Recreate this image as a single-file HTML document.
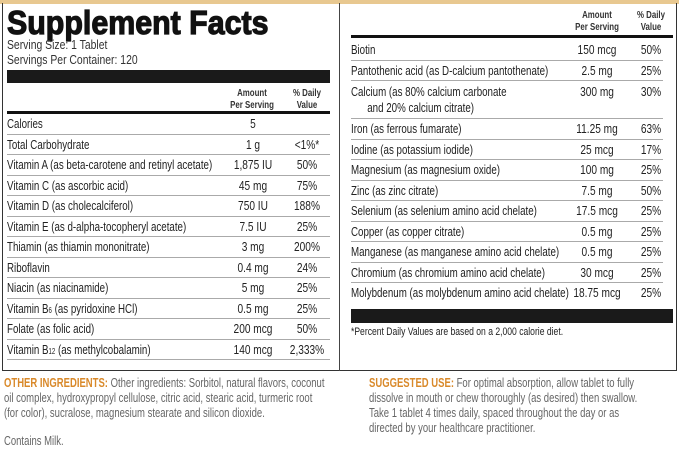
<!DOCTYPE html>
<html><head><meta charset="utf-8"><style>
*{margin:0;padding:0;box-sizing:border-box}
body{width:679px;height:448px;background:#fff;position:relative;overflow:hidden;font-family:"Liberation Sans",sans-serif;color:#222}
.a{position:absolute;white-space:nowrap}
.r{position:relative;height:20.5px;border-bottom:1px solid #aaa;font-size:13px;line-height:20px}
.r span{position:absolute;top:0;white-space:nowrap}
.r span:nth-child(1){left:0;transform:scaleX(.75);transform-origin:0 0}
.L span:nth-child(2){left:216px;width:60px;text-align:center;transform:scaleX(.78)}
.L span:nth-child(3){left:276px;width:48px;text-align:center;transform:scaleX(.78)}
.R span:nth-child(2){left:215px;width:62px;text-align:center;transform:scaleX(.78)}
.R span:nth-child(3){left:277px;width:46px;text-align:center;transform:scaleX(.78)}
.hd{position:absolute;font-size:10.5px;font-weight:bold;text-align:center;line-height:12px;transform:scaleX(.75);color:#333}
.bt{font-size:12.5px;color:#666;line-height:15px;transform:scaleX(.76);transform-origin:0 0}
.or{color:#d9892a;font-weight:bold}
</style></head><body>
<div class="a" style="left:0;top:0;width:679px;height:4px;background:#e8c890"></div>
<div class="a" style="left:2px;top:3px;width:675px;height:368px;border:1.5px solid #333;border-top:none"></div>
<div class="a" style="left:339px;top:3px;width:1px;height:368px;background:#444"></div>

<div class="a" style="left:7px;top:5px;font-weight:900;font-size:33px;line-height:36px;-webkit-text-stroke:1.2px #111;color:#111;transform:scaleX(.92);transform-origin:0 0">Supplement Facts</div>
<div class="a" style="left:7px;top:37px;font-size:13px;line-height:15px;color:#333;transform:scaleX(.8);transform-origin:0 0">Serving Size: 1 Tablet<br>Servings Per Container: 120</div>
<div class="a" style="left:7px;top:70px;width:323px;height:13px;background:#1a1a1a"></div>
<div class="hd" style="left:216px;top:87px;width:72px">Amount<br>Per Serving</div>
<div class="hd" style="left:280px;top:87px;width:54px">% Daily<br>Value</div>
<div class="a" style="left:7px;top:111px;width:323px;height:3px;background:#111"></div>

<div class="L" style="position:absolute;left:7px;top:114px;width:323px">
<div class="r"><span>Calories</span><span>5</span></div>
<div class="r"><span>Total Carbohydrate</span><span>1 g</span><span>&lt;1%*</span></div>
<div class="r"><span>Vitamin A (as beta-carotene and retinyl acetate)</span><span>1,875 IU</span><span>50%</span></div>
<div class="r"><span>Vitamin C (as ascorbic acid)</span><span>45 mg</span><span>75%</span></div>
<div class="r"><span>Vitamin D (as cholecalciferol)</span><span>750 IU</span><span>188%</span></div>
<div class="r"><span>Vitamin E (as d-alpha-tocopheryl acetate)</span><span>7.5 IU</span><span>25%</span></div>
<div class="r"><span>Thiamin (as thiamin mononitrate)</span><span>3 mg</span><span>200%</span></div>
<div class="r"><span>Riboflavin</span><span>0.4 mg</span><span>24%</span></div>
<div class="r"><span>Niacin (as niacinamide)</span><span>5 mg</span><span>25%</span></div>
<div class="r"><span>Vitamin B<small style="font-size:8px">6</small> (as pyridoxine HCl)</span><span>0.5 mg</span><span>25%</span></div>
<div class="r"><span>Folate (as folic acid)</span><span>200 mcg</span><span>50%</span></div>
<div class="r"><span>Vitamin B<small style="font-size:8px">12</small> (as methylcobalamin)</span><span>140 mcg</span><span>2,333%</span></div>
</div>

<div class="hd" style="left:561px;top:9px;width:72px">Amount<br>Per Serving</div>
<div class="hd" style="left:624px;top:9px;width:54px">% Daily<br>Value</div>
<div class="a" style="left:351px;top:35px;width:322px;height:3px;background:#111"></div>
<div class="R" style="position:absolute;left:351px;top:40px;width:312px">
<div class="r"><span>Biotin</span><span>150 mcg</span><span>50%</span></div>
<div class="r"><span>Pantothenic acid (as D-calcium pantothenate)</span><span>2.5 mg</span><span>25%</span></div>
<div class="r" style="height:38px;line-height:16px"><span style="top:3px">Calcium (as 80% calcium carbonate<br>&nbsp;&nbsp;&nbsp;&nbsp;&nbsp;&nbsp;and 20% calcium citrate)</span><span style="top:3px">300 mg</span><span style="top:3px">30%</span></div>
<div class="r"><span>Iron (as ferrous fumarate)</span><span>11.25 mg</span><span>63%</span></div>
<div class="r"><span>Iodine (as potassium iodide)</span><span>25 mcg</span><span>17%</span></div>
<div class="r"><span>Magnesium (as magnesium oxide)</span><span>100 mg</span><span>25%</span></div>
<div class="r"><span>Zinc (as zinc citrate)</span><span>7.5 mg</span><span>50%</span></div>
<div class="r"><span>Selenium (as selenium amino acid chelate)</span><span>17.5 mcg</span><span>25%</span></div>
<div class="r"><span>Copper (as copper citrate)</span><span>0.5 mg</span><span>25%</span></div>
<div class="r"><span>Manganese (as manganese amino acid chelate)</span><span>0.5 mg</span><span>25%</span></div>
<div class="r"><span>Chromium (as chromium amino acid chelate)</span><span>30 mcg</span><span>25%</span></div>
<div class="r" style="border-bottom:none"><span>Molybdenum (as molybdenum amino acid chelate)</span><span>18.75 mcg</span><span>25%</span></div>
</div>
<div class="a" style="left:351px;top:309px;width:322px;height:14px;background:#1a1a1a"></div>
<div class="a" style="left:351px;top:326px;font-size:11px;line-height:12px;transform:scaleX(.78);transform-origin:0 0">*Percent Daily Values are based on a 2,000 calorie diet.</div>

<div class="a bt" style="left:4px;top:376px"><span class="or">OTHER INGREDIENTS:</span> Other ingredients: Sorbitol, natural flavors, coconut<br>oil complex, hydroxypropyl cellulose, citric acid, stearic acid, turmeric root<br>(for color), sucralose, magnesium stearate and silicon dioxide.</div>
<div class="a bt" style="left:4px;top:434px">Contains Milk.</div>
<div class="a bt" style="left:369px;top:376px"><span class="or">SUGGESTED USE:</span> For optimal absorption, allow tablet to fully<br>dissolve in mouth or chew thoroughly (as desired) then swallow.<br>Take 1 tablet 4 times daily, spaced throughout the day or as<br>directed by your healthcare practitioner.</div>
</body></html>
